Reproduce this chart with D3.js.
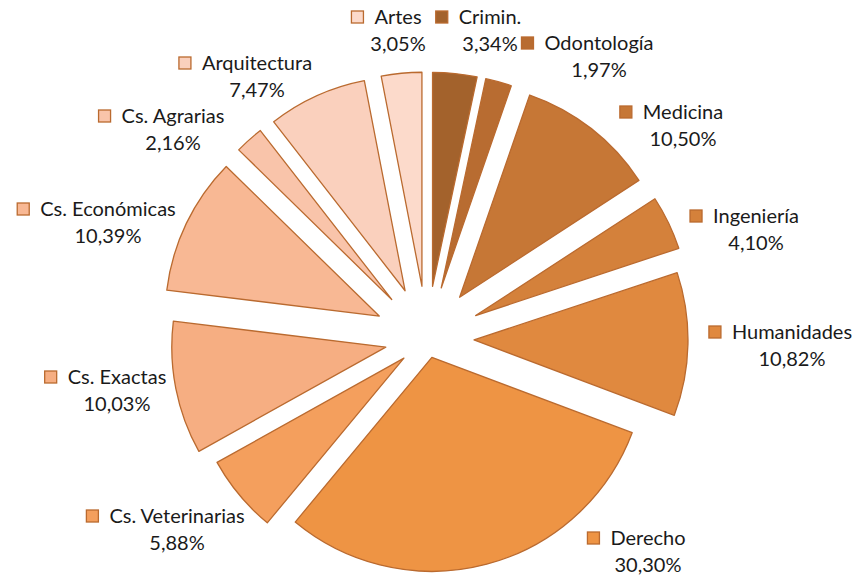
<!DOCTYPE html>
<html>
<head>
<meta charset="utf-8">
<script src="https://cdn.jsdelivr.net/npm/d3@7"></script>
<style>
  body { margin: 0; background: #fff; }
  .lbl { font-family: "Lato", "Open Sans", sans-serif; font-size: 20px; fill: #1a1a1a; }
</style>
</head>
<body>
<div class="chart"></div>
<script>
// data, clockwise from 12 o'clock
var categories = ["Crimin.", "Odontología", "Medicina", "Ingeniería", "Humanidades", "Derecho",
  "Cs. Veterinarias", "Cs. Exactas", "Cs. Económicas", "Cs. Agrarias", "Arquitectura", "Artes"];
var values = [3.34, 1.97, 10.50, 4.10, 10.82, 30.30, 5.88, 10.03, 10.39, 2.16, 7.47, 3.05];
var valueLabels = ["3,34%", "1,97%", "10,50%", "4,10%", "10,82%", "30,30%",
  "5,88%", "10,03%", "10,39%", "2,16%", "7,47%", "3,05%"];

// styling
var colors = ["#A3622C", "#B86C31", "#C67736", "#D4813B", "#E0893F", "#EE9444",
  "#F49F5D", "#F6AE82", "#F8B894", "#F9C4AA", "#FAD0BD", "#FCDACB"];
var strokeColor = "#BA6A2F";
var explode = [53, 53, 53, 54, 47, 19, 30, 42, 53, 53, 53, 53];
// label anchor: centre of the name text, y of the name line
var labelAt = [[490, 17], [599, 43], [683, 112], [756, 216], [792, 332], [648, 538],
  [177, 516], [117, 377], [108, 209], [173, 116], [257, 63], [398, 17]];

var svgWidth = 857;
var svgHeight = 579;
var cx = 427, cy = 339, radius = 214;

var svg = d3.select(".chart")
  .append("svg")
  .attr("width", svgWidth)
  .attr("height", svgHeight);

var pie = d3.pie().sort(null).value(function(d) { return d; });
var arc = d3.arc().innerRadius(0).outerRadius(radius);
var arcs = pie(values);

var chart = svg.append("g").attr("transform", "translate(" + cx + "," + cy + ")");

chart.selectAll("path")
  .data(arcs)
  .enter()
  .append("path")
  .attr("d", arc)
  .attr("transform", function(d, i) {
    var a = (d.startAngle + d.endAngle) / 2;
    return "translate(" + (Math.sin(a) * explode[i]) + "," + (-Math.cos(a) * explode[i]) + ")";
  })
  .attr("fill", function(d, i) { return colors[i]; })
  .attr("stroke", strokeColor)
  .attr("stroke-width", 1.3)
  .attr("stroke-linejoin", "round");

// labels: legend key + name, value below
var labels = svg.selectAll("g.label")
  .data(categories)
  .enter()
  .append("g")
  .attr("class", "label")
  .attr("transform", function(d, i) { return "translate(" + labelAt[i][0] + "," + labelAt[i][1] + ")"; });

labels.append("text")
  .attr("class", "lbl name")
  .attr("text-anchor", "middle")
  .attr("dy", "0.35em")
  .text(function(d) { return d; });

labels.append("text")
  .attr("class", "lbl")
  .attr("text-anchor", "middle")
  .attr("y", 27)
  .attr("dy", "0.35em")
  .text(function(d, i) { return valueLabels[i]; });

labels.each(function(d, i) {
  var g = d3.select(this);
  var w = g.select("text.name").node().getComputedTextLength();
  g.append("rect")
    .attr("x", -w / 2 - 23)
    .attr("y", -6)
    .attr("width", 12)
    .attr("height", 12)
    .attr("fill", colors[i])
    .attr("stroke", strokeColor)
    .attr("stroke-width", 1.3);
});
</script>
</body>
</html>
